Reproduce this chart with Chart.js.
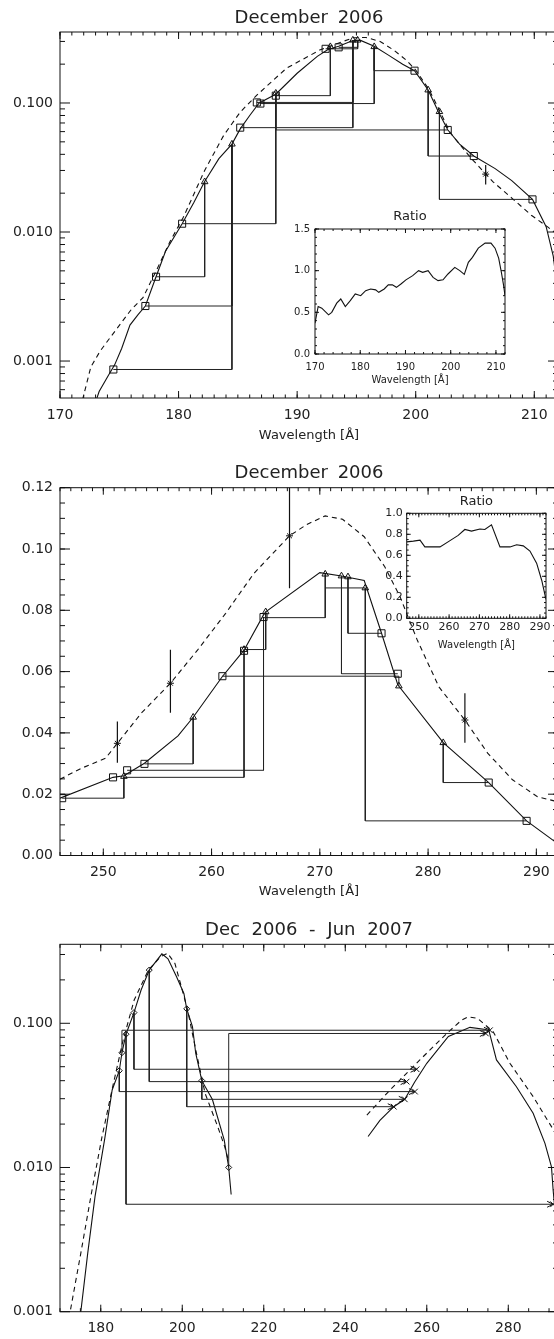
<!DOCTYPE html>
<html>
<head>
<meta charset="utf-8">
<script src="https://cdn.jsdelivr.net/npm/chart.js@4.4.1/dist/chart.umd.min.js"></script>
<style>
  body { margin: 0; background: #fff; }
  #page { position: relative; width: 554px; height: 1339px; overflow: hidden; }
  canvas { position: absolute; }
</style>
</head>
<body>
<div id="page">
  <canvas id="p1" width="600" height="445" style="left:0;top:0"></canvas>
  <canvas id="p2" width="600" height="460" style="left:0;top:445px"></canvas>
  <canvas id="p3" width="600" height="434" style="left:0;top:905px"></canvas>
  <canvas id="r1" width="260" height="200" style="left:270px;top:195px"></canvas>
  <canvas id="r2" width="200" height="180" style="left:370px;top:480px"></canvas>
</div>
<script>
// ---- panel 1: December 2006, 170-212 A (log) ----
const p1SolidX = [172.7, 173.3, 174.1, 174.6, 175.2, 175.9, 176.6, 177.2, 178.1, 178.9, 180.3, 181.3, 182.2, 183.4, 184.5, 185.2, 186.0, 186.8, 188.2, 190.0, 191.7, 192.6, 193.5, 194.7, 195.3, 196.5, 197.7, 198.9, 199.9, 201.05, 201.9, 202.7, 203.7, 204.9, 206.7, 208.1, 209.85, 211.0, 211.6, 212.3];
const p1SolidY = [0.0004, 0.00058, 0.00078, 0.00093, 0.00125, 0.0019, 0.0023, 0.00267, 0.0045, 0.0071, 0.0116, 0.017, 0.0246, 0.037, 0.048, 0.063, 0.08, 0.1, 0.117, 0.17, 0.23, 0.26, 0.275, 0.305, 0.307, 0.275, 0.235, 0.2, 0.178, 0.126, 0.086, 0.062, 0.048, 0.0388, 0.031, 0.025, 0.0179, 0.011, 0.0065, 0.002];
const p1DashX = [171.9, 172.6, 173.4, 174.5, 176.0, 177.0, 178.2, 179.3, 180.4, 182.2, 183.8, 185.2, 186.6, 189.1, 191.9, 194.7, 195.8, 197.0, 198.2, 199.2, 200.0, 201.1, 202.0, 202.9, 204.6, 206.5, 208.2, 209.75, 211.1, 212.0];
const p1DashY = [0.0005, 0.0009, 0.0012, 0.00164, 0.0025, 0.0031, 0.0052, 0.0085, 0.013, 0.030, 0.056, 0.085, 0.115, 0.186, 0.257, 0.32, 0.322, 0.30, 0.255, 0.215, 0.18, 0.128, 0.088, 0.059, 0.038, 0.0246, 0.018, 0.0135, 0.011, 0.0095];
const p1SquareX = [174.5, 177.2, 178.1, 180.3, 185.2, 186.6, 186.9, 188.2, 192.4, 193.5, 199.9, 202.7, 204.9, 209.85];
const p1SquareY = [0.00086, 0.00267, 0.0045, 0.0116, 0.0644, 0.101, 0.099, 0.114, 0.263, 0.27, 0.178, 0.0618, 0.0388, 0.0179];
const p1TriX = [182.2, 184.5, 188.2, 192.8, 194.7, 195.1, 196.5, 201.05, 202.0];
const p1TriY = [0.0245, 0.048, 0.119, 0.273, 0.307, 0.307, 0.273, 0.126, 0.0857];
// links: [from x, from y, to x, to y] drawn down/up then across
const p1Links = [[184.5, 0.048, 174.5, 0.00086], [184.5, 0.048, 177.2, 0.00267], [182.2, 0.0245, 178.1, 0.0045],
  [188.2, 0.119, 180.3, 0.0116], [188.2, 0.119, 202.7, 0.0618], [194.7, 0.307, 185.2, 0.0644],
  [194.7, 0.307, 186.6, 0.101], [196.5, 0.273, 186.9, 0.099], [192.8, 0.273, 188.2, 0.114],
  [195.1, 0.307, 192.4, 0.263], [195.1, 0.307, 193.5, 0.27], [196.5, 0.273, 199.9, 0.178],
  [201.05, 0.126, 204.9, 0.0388], [202.0, 0.0857, 209.85, 0.0179]];
const p1StarX = [205.9], p1StarY = [0.0281], p1StarLo = [0.0234], p1StarHi = [0.033];
const p1XTicks = [170, 180, 190, 200, 210];
const p1YTicks = [0.001, 0.01, 0.1], p1YLabels = ['0.001', '0.010', '0.100'];

// inset 1: ratio
const r1X = [170, 170.7, 171.5, 173.0, 173.7, 174.8, 175.7, 176.7, 177.8, 178.9, 180.1, 181.2, 182.3, 183.4, 184.1, 185.3, 186.2, 187.1, 188.0, 189.0, 190.1, 191.6, 192.9, 193.8, 195.0, 196.1, 197.2, 198.3, 199.4, 200.9, 202.0, 203.0, 203.9, 204.8, 206.1, 207.6, 208.9, 209.8, 210.6, 211.2, 211.7, 212.0];
const r1Y = [0.37, 0.57, 0.55, 0.47, 0.5, 0.61, 0.66, 0.57, 0.64, 0.72, 0.70, 0.76, 0.78, 0.77, 0.74, 0.78, 0.83, 0.83, 0.80, 0.84, 0.89, 0.94, 1.0, 0.98, 1.0, 0.92, 0.88, 0.89, 0.96, 1.04, 1.0, 0.955, 1.10, 1.16, 1.27, 1.33, 1.33, 1.27, 1.15, 0.98, 0.82, 0.70];
const r1XTicks = [170, 180, 190, 200, 210];
const r1YTicks = [0, 0.5, 1.0, 1.5], r1YLabels = ['0.0', '0.5', '1.0', '1.5'];

// ---- panel 2: December 2006, 246-292 A (linear) ----
const p2SolidX = [246.0, 250.9, 251.9, 253.8, 256.9, 258.3, 261.0, 263.0, 264.8, 265.0, 270.0, 272.0, 274.1, 275.7, 277.2, 281.4, 285.6, 289.1, 292.0];
const p2SolidY = [0.0187, 0.0255, 0.026, 0.0301, 0.039, 0.0451, 0.0584, 0.067, 0.0785, 0.0795, 0.0923, 0.0912, 0.0897, 0.0725, 0.0557, 0.0368, 0.0238, 0.0113, 0.0038];
const p2DashX = [246, 248, 250.2, 251.3, 253.5, 256.2, 258.7, 261.3, 263.9, 267.2, 268.8, 270.5, 272.1, 274.1, 276.0, 277.4, 279.0, 281.0, 283.4, 285.5, 287.8, 290.1, 292];
const p2DashY = [0.0249, 0.0285, 0.0317, 0.0366, 0.0464, 0.0562, 0.067, 0.079, 0.092, 0.1043, 0.108, 0.1108, 0.1097, 0.104, 0.0942, 0.0845, 0.0703, 0.055, 0.0442, 0.0334, 0.0247, 0.0192, 0.0175];
const p2SquareX = [246.2, 250.9, 252.2, 253.8, 261.0, 263.0, 264.8, 275.7, 277.2, 285.6, 289.1];
const p2SquareY = [0.0187, 0.0255, 0.0278, 0.0299, 0.0585, 0.0668, 0.0778, 0.0725, 0.0593, 0.0238, 0.0113];
const p2TriX = [251.9, 258.3, 263.0, 265.0, 270.5, 272.0, 272.6, 274.2, 277.3, 281.4];
const p2TriY = [0.0258, 0.0451, 0.0672, 0.0795, 0.0918, 0.0912, 0.0909, 0.0873, 0.0553, 0.0368];
const p2Links = [[251.9, 0.0258, 246.2, 0.0187], [263.0, 0.0672, 251.9, 0.0255], [264.8, 0.0778, 252.2, 0.0278],
  [258.3, 0.0451, 253.8, 0.0299], [272.0, 0.0912, 277.2, 0.0593], [277.3, 0.0553, 261.0, 0.0585],
  [270.5, 0.0918, 264.8, 0.0776], [265.0, 0.0795, 263.0, 0.0672], [272.6, 0.0909, 275.7, 0.0725],
  [274.2, 0.0873, 289.1, 0.0113], [274.2, 0.0873, 270.5, 0.0873], [281.4, 0.0368, 285.6, 0.0238]];
const p2StarX = [251.3, 256.2, 267.2, 283.4];
const p2StarY = [0.0366, 0.0562, 0.1043, 0.0442];
const p2StarLo = [0.0303, 0.0466, 0.0872, 0.0368];
const p2StarHi = [0.0437, 0.0671, 0.125, 0.0529];
const p2XTicks = [250, 260, 270, 280, 290];
const p2YTicks = [0, 0.02, 0.04, 0.06, 0.08, 0.10, 0.12];
const p2YLabels = ['0.00', '0.02', '0.04', '0.06', '0.08', '0.10', '0.12'];

// inset 2: ratio
const r2X = [246, 248.2, 250.4, 252.0, 257, 260.3, 263.0, 265.2, 267.4, 270.2, 271.8, 274.0, 276.8, 280.1, 282.3, 284.5, 286.7, 288.9, 290.6, 291.6, 292];
const r2Y = [0.728, 0.735, 0.744, 0.68, 0.68, 0.74, 0.79, 0.846, 0.83, 0.85, 0.846, 0.89, 0.68, 0.68, 0.70, 0.69, 0.64, 0.525, 0.36, 0.23, 0.18];
const r2XTicks = [250, 260, 270, 280, 290];
const r2YTicks = [0, 0.2, 0.4, 0.6, 0.8, 1.0], r2YLabels = ['0.0', '0.2', '0.4', '0.6', '0.8', '1.0'];

// ---- panel 3: Dec 2006 - Jun 2007, 170-292 A (log) ----
const p3Solid1X = [174.7, 176.8, 178.6, 181.0, 182.8, 184.55, 185.2, 186.2, 188.15, 189.9, 191.9, 195.0, 196.5, 198.6, 200.4, 201.1, 202.5, 203.3, 204.8, 207.4, 210.3, 211.4, 212.0];
const p3Solid1Y = [0.0008, 0.00254, 0.0063, 0.016, 0.0345, 0.0469, 0.0625, 0.084, 0.1186, 0.17, 0.234, 0.303, 0.28, 0.21, 0.161, 0.126, 0.095, 0.062, 0.040, 0.0296, 0.0155, 0.010, 0.0065];
const p3Dash1X = [172.2, 175.1, 177.7, 180.3, 182.9, 185.5, 188.2, 191.7, 194.7, 196.4, 198.2, 200.0, 201.3, 203.5, 205.6, 208.7, 210.4, 211.3];
const p3Dash1Y = [0.0009, 0.00254, 0.0066, 0.0163, 0.036, 0.0766, 0.145, 0.234, 0.29, 0.306, 0.26, 0.17, 0.124, 0.0617, 0.0327, 0.0192, 0.014, 0.0113];
const p3Solid2X = [245.6, 248.5, 251.9, 254.6, 257.0, 260.0, 265.3, 270.6, 274.5, 275.3, 277.1, 282.0, 286.1, 289.0, 290.6, 291.0, 291.6, 292.2];
const p3Solid2Y = [0.0164, 0.0212, 0.0264, 0.0297, 0.039, 0.0528, 0.081, 0.0937, 0.0905, 0.088, 0.0557, 0.0363, 0.0238, 0.0147, 0.0101, 0.007, 0.0045, 0.003];
const p3Dash2X = [245.3, 251, 258.3, 264.9, 268.5, 270.2, 272.5, 276.3, 280.4, 286.1, 290.6, 292.2];
const p3Dash2Y = [0.0231, 0.0345, 0.0557, 0.085, 0.105, 0.111, 0.108, 0.0874, 0.0528, 0.031, 0.0192, 0.016];
const p3DiamondX = [184.55, 185.2, 186.2, 188.15, 191.9, 201.1, 204.8, 211.4];
const p3DiamondY = [0.0469, 0.0625, 0.084, 0.1186, 0.234, 0.126, 0.040, 0.010];
const p3CrossX = [257.5, 255.05, 257.1, 254.6, 251.9, 274.5, 275.5, 291.0];
const p3CrossY = [0.048, 0.0394, 0.0336, 0.0297, 0.0264, 0.085, 0.0895, 0.00556];
const p3Links = [[185.2, 0.0625, 275.5, 0.0895], [184.55, 0.0469, 257.1, 0.0336], [186.2, 0.084, 291.0, 0.00556],
  [188.15, 0.1186, 257.5, 0.048], [191.9, 0.234, 255.05, 0.0394], [201.1, 0.126, 251.9, 0.0264],
  [204.8, 0.040, 254.6, 0.0297], [211.4, 0.010, 274.5, 0.085]];
const p3XTicks = [180, 200, 220, 240, 260, 280];
const p3YTicks = [0.001, 0.01, 0.1], p3YLabels = ['0.001', '0.010', '0.100'];

const INK = '#111';
const FONT = '"DejaVu Sans", sans-serif';

function pts(xs, ys) { return xs.map((x, i) => ({ x: x, y: ys[i] })); }

function curve(xs, ys, dash) {
  return { data: pts(xs, ys), showLine: true, pointRadius: 0, borderColor: INK,
    borderWidth: 1.1, borderDash: dash || [], fill: false, tension: 0 };
}
function markers(xs, ys, style, r) {
  return { data: pts(xs, ys), showLine: false, pointStyle: style, pointRadius: r,
    pointBorderColor: INK, pointBackgroundColor: 'rgba(0,0,0,0)', pointBorderWidth: 1 };
}
function linkLines(links) {
  return links.map(l => ({
    data: [{ x: l[0], y: l[1] }, { x: l[0], y: l[3] }, { x: l[2], y: l[3] }],
    showLine: true, pointRadius: 0, borderColor: '#222', borderWidth: 1, tension: 0
  }));
}
function errorBars(xs, lo, hi) {
  return xs.map((x, i) => ({
    data: [{ x: x, y: lo[i] }, { x: x, y: hi[i] }],
    showLine: true, pointRadius: 0, borderColor: INK, borderWidth: 1.2
  }));
}

function minorValues(min, max, step, log) {
  const out = [];
  if (log) {
    for (let d = Math.floor(Math.log10(min)); d <= Math.ceil(Math.log10(max)); d++) {
      for (let k = 2; k <= 9; k++) {
        const v = k * Math.pow(10, d);
        if (v >= min && v <= max) out.push(v);
      }
    }
  } else {
    const i0 = Math.ceil(min / step - 1e-6), i1 = Math.floor(max / step + 1e-6);
    for (let i = i0; i <= i1; i++) out.push(i * step);
  }
  return out;
}

// IDL-like frame: box, inward ticks on all sides, tick labels, titles
function frame(c) {
  return {
    id: 'frame',
    afterDraw(chart) {
      const { ctx, chartArea: a, scales: { x, y } } = chart;
      ctx.save();
      ctx.strokeStyle = INK;
      ctx.lineWidth = 1;
      ctx.strokeRect(a.left, a.top, a.right - a.left, a.bottom - a.top);
      ctx.beginPath();
      const xt = (v, len) => {
        const p = x.getPixelForValue(v);
        ctx.moveTo(p, a.bottom); ctx.lineTo(p, a.bottom - len);
        ctx.moveTo(p, a.top); ctx.lineTo(p, a.top + len);
      };
      const yt = (v, len) => {
        const p = y.getPixelForValue(v);
        ctx.moveTo(a.left, p); ctx.lineTo(a.left + len, p);
        ctx.moveTo(a.right, p); ctx.lineTo(a.right - len, p);
      };
      minorValues(x.min, x.max, c.xMinor, false).forEach(v => xt(v, c.xLen[1]));
      c.xTicks.forEach(v => xt(v, c.xLen[0]));
      minorValues(y.min, y.max, c.yMinor, c.log).forEach(v => yt(v, c.yLen[1]));
      c.yTicks.forEach(v => yt(v, c.yLen[0]));
      ctx.stroke();

      ctx.fillStyle = '#222';
      ctx.textBaseline = 'middle';
      ctx.font = c.font + 'px ' + FONT;
      ctx.textAlign = 'center';
      c.xTicks.forEach(v => ctx.fillText(String(v), x.getPixelForValue(v), a.bottom + c.xGap));
      ctx.textAlign = 'right';
      c.yTicks.forEach((v, i) => ctx.fillText(c.yLabels[i], a.left - c.yGap, y.getPixelForValue(v)));
      const cx = (a.left + a.right) / 2;
      ctx.textAlign = 'center';
      if (c.xTitle) {
        ctx.font = c.xTitleFont + 'px ' + FONT;
        ctx.fillText(c.xTitle, cx, a.bottom + c.xTitleGap);
      }
      if (c.title) {
        ctx.font = c.titleFont + 'px ' + FONT;
        if ('wordSpacing' in ctx) ctx.wordSpacing = c.wordSpacing || '0px';
        ctx.fillText(c.title, cx, a.top - c.titleGap);
      }
      ctx.restore();
    }
  };
}

function arrows(links) {
  return {
    id: 'arrows',
    afterDatasetsDraw(chart) {
      const { ctx, scales: { x, y } } = chart;
      ctx.save();
      ctx.strokeStyle = INK;
      ctx.lineWidth = 1;
      ctx.beginPath();
      links.forEach(l => {
        const px = x.getPixelForValue(l[2]), py = y.getPixelForValue(l[3]);
        ctx.moveTo(px - 6, py - 3); ctx.lineTo(px, py); ctx.lineTo(px - 6, py + 3);
      });
      ctx.stroke();
      ctx.restore();
    }
  };
}

function makeChart(id, datasets, pad, xr, yr, log, plugins) {
  return new Chart(id, {
    type: 'scatter',
    data: { datasets: datasets },
    options: {
      responsive: false,
      animation: false,
      events: [],
      layout: { padding: pad },
      plugins: { legend: { display: false }, tooltip: { enabled: false } },
      scales: {
        x: { type: 'linear', min: xr[0], max: xr[1], display: false, bounds: 'data' },
        y: { type: log ? 'logarithmic' : 'linear', min: yr[0], max: yr[1], display: false, bounds: 'data' }
      }
    },
    plugins: plugins
  });
}

// panel 1
makeChart('p1', [
  markers(p1SquareX, p1SquareY, 'rect', 5),
  markers(p1TriX, p1TriY, 'triangle', 3.8),
  markers(p1StarX, p1StarY, 'star', 3.5),
  ...errorBars(p1StarX, p1StarLo, p1StarHi),
  ...linkLines(p1Links),
  curve(p1SolidX, p1SolidY),
  curve(p1DashX, p1DashY, [5, 4])
], { left: 60, top: 32, right: 42, bottom: 47 }, [170, 212], [0.000517, 0.355], true,
[frame({ xTicks: p1XTicks, xMinor: 1, xLen: [7, 3.5], yTicks: p1YTicks, yLabels: p1YLabels, log: true, yLen: [10, 5],
  font: 14, xGap: 17, yGap: 7, xTitle: 'Wavelength [Å]', xTitleFont: 13, xTitleGap: 38,
  title: 'December 2006', titleFont: 18, titleGap: 14, wordSpacing: '4px' })]);

makeChart('r1', [curve(r1X, r1Y)], { left: 45, top: 34, right: 25, bottom: 41 }, [170, 212], [0, 1.5], false,
[frame({ xTicks: r1XTicks, xMinor: 2, xLen: [4, 2], yTicks: r1YTicks, yLabels: r1YLabels, yMinor: 0.1, yLen: [4, 2],
  font: 10, xGap: 13, yGap: 5, xTitle: 'Wavelength [Å]', xTitleFont: 10, xTitleGap: 26,
  title: 'Ratio', titleFont: 13, titleGap: 12 })]);

// panel 2
makeChart('p2', [
  markers(p2SquareX, p2SquareY, 'rect', 5),
  markers(p2TriX, p2TriY, 'triangle', 3.8),
  markers(p2StarX, p2StarY, 'star', 3.5),
  ...errorBars(p2StarX, p2StarLo, p2StarHi),
  ...linkLines(p2Links),
  curve(p2SolidX, p2SolidY),
  curve(p2DashX, p2DashY, [5, 4])
], { left: 60, top: 42.7, right: 42, bottom: 49.5 }, [246, 292], [0, 0.12], false,
[frame({ xTicks: p2XTicks, xMinor: 1, xLen: [7, 3.5], yTicks: p2YTicks, yLabels: p2YLabels, yMinor: 0.005, yLen: [10, 5],
  font: 14, xGap: 16.5, yGap: 7, xTitle: 'Wavelength [Å]', xTitleFont: 13, xTitleGap: 36.5,
  title: 'December 2006', titleFont: 18, titleGap: 14.7, wordSpacing: '4px' })]);

makeChart('r2', [curve(r2X, r2Y)], { left: 36.7, top: 33.3, right: 24, bottom: 41.7 }, [246, 292], [0, 1.0], false,
[frame({ xTicks: r2XTicks, xMinor: 1, xLen: [4, 2], yTicks: r2YTicks, yLabels: r2YLabels, yMinor: 0.05, yLen: [4, 2],
  font: 11, xGap: 9, yGap: 4, xTitle: 'Wavelength [Å]', xTitleFont: 10, xTitleGap: 27.4,
  title: 'Ratio', titleFont: 13, titleGap: 11.6 })]);

// panel 3
makeChart('p3', [
  markers(p3DiamondX, p3DiamondY, 'rectRot', 3),
  markers(p3CrossX, p3CrossY, 'crossRot', 4),
  ...linkLines(p3Links),
  curve(p3Solid1X, p3Solid1Y),
  curve(p3Dash1X, p3Dash1Y, [5, 4]),
  curve(p3Solid2X, p3Solid2Y),
  curve(p3Dash2X, p3Dash2Y, [5, 4])
], { left: 60, top: 39.3, right: 42, bottom: 27.3 }, [170, 292.2], [0.001, 0.353], true,
[frame({ xTicks: p3XTicks, xMinor: 5, xLen: [7, 3.5], yTicks: p3YTicks, yLabels: p3YLabels, log: true, yLen: [10, 5],
  font: 14, xGap: 16.5, yGap: 7, title: 'Dec 2006 - Jun 2007', titleFont: 18, titleGap: 14.3, wordSpacing: '6px' }),
 arrows(p3Links)]);
</script>
</body>
</html>
